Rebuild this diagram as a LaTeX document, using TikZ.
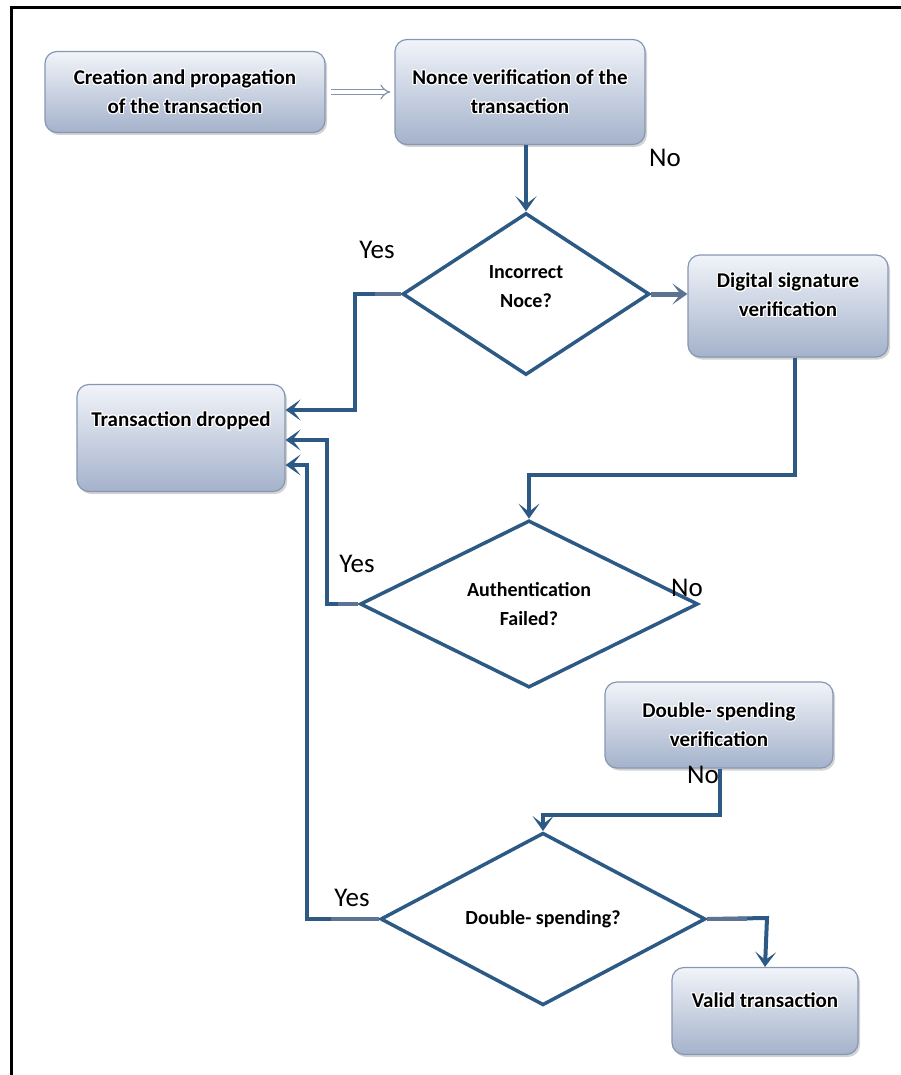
\documentclass[tikz,border=0pt]{standalone}
\usepackage{fontspec}
\setmainfont{Carlito}
\usepackage{contour}
\contourlength{1.1pt}
\usetikzlibrary{arrows.meta,shapes.geometric,shadows}

\definecolor{flow}{HTML}{2C5A84}
\definecolor{stub}{HTML}{5E7391}
\definecolor{boxtop}{HTML}{F1F4F9}
\definecolor{boxbot}{HTML}{A4B2CB}
\definecolor{boxedge}{HTML}{8797B3}
\definecolor{pipe}{HTML}{8494B0}

% white halo around box captions
\newcommand{\glow}[1]{\contour{white}{#1}}

\begin{document}
\begin{tikzpicture}[x=1pt,y=-1pt,
  procbox/.style={draw=boxedge, line width=1.2pt, rounded corners=12pt,
    top color=boxtop, bottom color=boxbot, align=center, inner sep=0pt,
    font=\bfseries\fontsize{21}{29}\selectfont,
    drop shadow={shadow xshift=2pt, shadow yshift=-2.5pt, opacity=0.35}},
  decision/.style={diamond, draw=flow, line width=3.5pt, fill=white,
    inner sep=0pt, align=center, font=\bfseries\fontsize{20}{29}\selectfont},
  answer/.style={font=\fontsize{27}{30}\selectfont, inner sep=0pt},
  flowline/.style={draw=flow, line width=4pt},
  flowarrow/.style={flowline, -{Stealth[length=15pt,width=21pt,inset=8pt]}},
  stubline/.style={draw=stub, line width=4pt},
]
\useasboundingbox (0,0) rectangle (901,1075);

% outer frame (top and left edges)
\draw[line width=3pt] (11,1075) -- (11,8) -- (901,8);

% process boxes
\node[procbox, minimum width=280pt, minimum height=81pt] (create) at (185,92)
  {\glow{Creation and propagation}\\\glow{of the transaction}};
\node[procbox, minimum width=250pt, minimum height=105pt] (nonce) at (520,92)
  {\glow{Nonce verification of the}\\\glow{transaction}};
\node[procbox, minimum width=200pt, minimum height=102pt, text depth=22pt] (sig) at (788,306)
  {\glow{Digital signature}\\\glow{verification}};
\node[procbox, minimum width=208pt, minimum height=107pt, text depth=38pt] (drop) at (181,438)
  {\glow{Transaction dropped}};
\node[procbox, minimum width=228pt, minimum height=86pt] (dsv) at (719,725)
  {\glow{Double- spending}\\\glow{verification}};
\node[procbox, minimum width=186pt, minimum height=87pt, text depth=22pt] (valid) at (765,1011)
  {\glow{Valid transaction}};

% decisions
\node[decision, minimum width=247pt, minimum height=162pt, text depth=14pt] (nq) at (526,294)
  {Incorrect\\Noce?};
\node[decision, minimum width=338pt, minimum height=158pt] (aq) at (529,604)
  {Authentication\\Failed?};
\node[decision, minimum width=325pt, minimum height=128pt] (dq) at (543,919)
  {Double- spending?};

% answer labels
\node[answer] (no1) at (665,158) {No};
\node[answer] (yes1) at (377,250) {Yes};
\node[answer] (yes2) at (357,564) {Yes};
\node[answer] (no2) at (687,588) {No};
\node[answer] (no3) at (703,775) {No};
\node[answer] (yes3) at (352,898) {Yes};

% bend points of the connectors
\coordinate (j1) at (355,410);
\coordinate (j2) at (327,440);
\coordinate (j3) at (307,465);
\coordinate (j4) at (795,475);
\coordinate (j5) at (720,815);
\coordinate (j6) at (767,918);

% creation -> nonce check
\draw[draw=pipe, double=white, line width=1.2pt, double distance=4pt,
      -{Implies}, shorten <=5pt, shorten >=4pt] (create) -- (nonce);

% nonce check -> decision
\draw[flowarrow] (nq.north |- nonce.south) -- (nq.north);

% incorrect nonce: yes -> dropped, no -> signature
\draw[flowarrow] (nq.west) -- (nq.west -| j1) -- (j1) -- (j1 -| drop.east);
\draw[stubline] (nq.west) -- ++(-26,0);
\draw[draw=stub, line width=5pt, -{Stealth[length=15pt,width=21pt,inset=8pt]}]
  (nq.east) -- (sig.west |- nq.east);

% signature -> authentication decision
\draw[flowarrow] (j4 |- sig.south) -- (j4) -- (j4 -| aq.north) -- (aq.north);

% authentication failed: yes -> dropped
\draw[flowarrow] (aq.west) -- (aq.west -| j2) -- (j2) -- (j2 -| drop.east);
\draw[stubline] (aq.west) -- ++(-20,0);

% double-spending verification -> decision
\draw[flowarrow] (j5 |- dsv.south) -- (j5) -- (j5 -| dq.north) -- (dq.north);

% double spending: yes -> dropped, no -> valid
\draw[flowarrow] (dq.west) -- (dq.west -| j3) -- (j3) -- (j3 -| drop.east);
\draw[stubline] (dq.west) -- ++(-48,0);
\draw[flowarrow] (dq.east) -- (j6) -- (valid.north);
\draw[stubline] (dq.east) -- ++(40,0);
\end{tikzpicture}
\end{document}
